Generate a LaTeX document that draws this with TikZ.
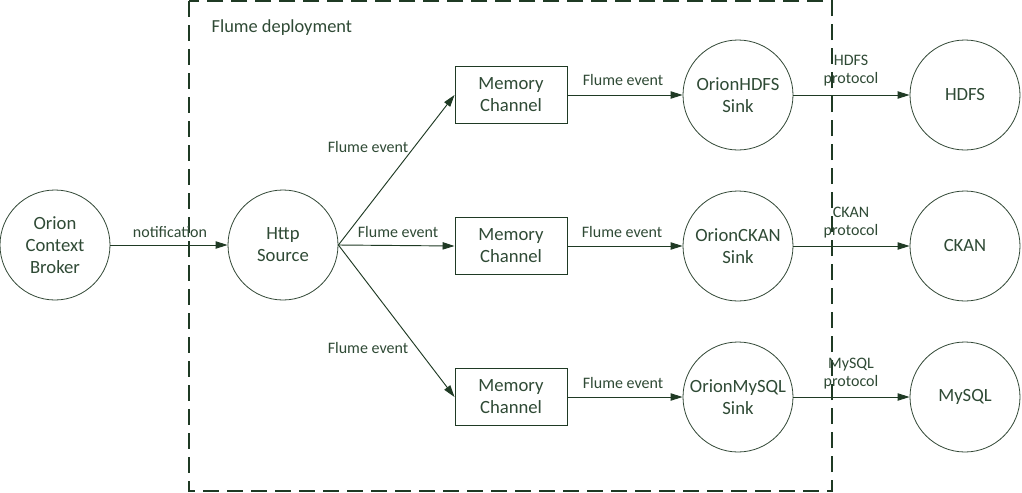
\documentclass[tikz,border=0pt]{standalone}
\usepackage{fontspec}
\setmainfont{Carlito}
\usetikzlibrary{arrows.meta}
\definecolor{lc}{HTML}{1F3A24}
\definecolor{tc}{HTML}{2F4A35}
\begin{document}
\begin{tikzpicture}[x=0.75pt,y=-0.75pt,
  circ/.style={draw=lc!80!gray,line width=0.6pt,circle,minimum size=82.5pt,inner sep=0pt,
     text=tc,font=\fontsize{14}{16.5}\selectfont,align=center},
  chan/.style={draw=lc,line width=0.7pt,rectangle,minimum width=84pt,minimum height=43pt,inner sep=0pt,
     text=tc,font=\fontsize{14}{16.5}\selectfont,align=center},
  lbl/.style={text=tc,font=\fontsize{12}{13.5}\selectfont,align=center,inner sep=1pt},
  arr/.style={draw=lc,line width=0.7pt,-{Triangle[length=9pt,width=5.5pt]}},
  frame/.style={draw=lc,line width=0.8pt,dash pattern=on 12pt off 6pt}
]
\useasboundingbox (0,0) rectangle (1022,493);
\fill[white] (0,0) rectangle (1022,493);
\draw[frame] (189,1) rectangle (832,491);
\node[lbl,anchor=west,font=\fontsize{13.8}{16}\selectfont] (fd) at (210,28) {Flume deployment};

\node[circ] (ocb) at (55,245) {Orion\\Context\\Broker};
\node[circ] (http) at (283,245) {Http\\Source};

\node[chan] (m1) at (511,95) {Memory\\Channel};
\node[chan] (m2) at (511,246) {Memory\\Channel};
\node[chan] (m3) at (511,397) {Memory\\Channel};

\node[circ] (s1) at (738,95) {OrionHDFS\\Sink};
\node[circ] (s2) at (738,246) {OrionCKAN\\Sink};
\node[circ] (s3) at (738,397) {OrionMySQL\\Sink};

\node[circ] (d1) at (965,95) {HDFS};
\node[circ] (d2) at (965,246) {CKAN};
\node[circ] (d3) at (965,397) {MySQL};

\draw[arr] (ocb.east) -- (http.west);
\node[lbl] (ln) at (170,232) {notification};

\draw[arr] (http.east) -- (m1.west);
\draw[arr] (http.east) -- (m2.west);
\draw[arr] (http.east) -- (m3.west);
\node[lbl] (l1) at (368,147) {Flume event};
\node[lbl] (l2) at (398,232) {Flume event};
\node[lbl] (l3) at (368,348) {Flume event};

\draw[arr] (m1.east) -- (s1.west);
\draw[arr] (m2.east) -- (s2.west);
\draw[arr] (m3.east) -- (s3.west);
\node[lbl] (f1) at (623,80) {Flume event};
\node[lbl] (f2) at (622,232) {Flume event};
\node[lbl] (f3) at (623,383) {Flume event};

\draw[arr] (s1.east) -- (d1.west);
\draw[arr] (s2.east) -- (d2.west);
\draw[arr] (s3.east) -- (d3.west);
\node[lbl] (p1) at (851,71) {HDFS\\protocol};
\node[lbl] (p2) at (851,223) {CKAN\\protocol};
\node[lbl] (p3) at (851,374) {MySQL\\protocol};
\end{tikzpicture}
\end{document}
